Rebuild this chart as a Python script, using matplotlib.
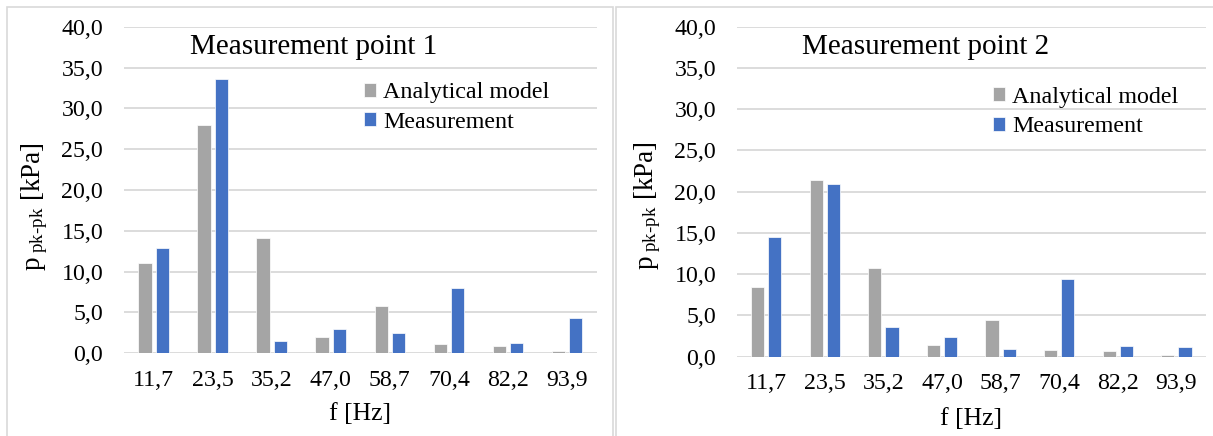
import numpy as np
import matplotlib
matplotlib.use('Agg')
import matplotlib.pyplot as plt
from matplotlib.patches import Rectangle
from matplotlib.ticker import FuncFormatter

plt.rcParams['font.family'] = ['Liberation Serif', 'DejaVu Serif']
plt.rcParams['mathtext.fontset'] = 'custom'
plt.rcParams['mathtext.rm'] = 'Liberation Serif'
plt.rcParams['mathtext.it'] = 'Liberation Serif:italic'

# ---------------------------------- data ----------------------------------
freqs = ['11,7', '23,5', '35,2', '47,0', '58,7', '70,4', '82,2', '93,9']
model_p1 = [11.1, 28.0, 14.1, 1.96, 5.8, 1.14, 0.86, 0.29]
meas_p1 = [12.9, 33.6, 1.47, 2.97, 2.44, 8.0, 1.26, 4.36]
model_p2 = [8.5, 21.4, 10.8, 1.45, 4.44, 0.85, 0.65, 0.2]
meas_p2 = [14.5, 20.9, 3.55, 2.34, 0.93, 9.44, 1.29, 1.21]

gray = '#A5A5A5'
blue = '#4472C4'
grid_c = '#D9D9D9'

W, H = 1213, 436
fig = plt.figure(figsize=(W / 100, H / 100), dpi=100)

# panel frames (pixel coords -> figure coords)
def frame(x0, y0, x1, y1):
    fig.add_artist(Rectangle((x0 / W, 1 - y1 / H), (x1 - x0) / W, (y1 - y0) / H,
                             transform=fig.transFigure, fill=False,
                             ec=grid_c, lw=1.2))

frame(7.3, 7.3, 612.5, 440)
frame(616, 7.3, 1220, 440)


def panel(rect_px, model, meas, title, legend_xy, ylab_xy, xlab_pad):
    x0, y0, x1, y1 = rect_px
    ax = fig.add_axes([x0 / W, 1 - y1 / H, (x1 - x0) / W, (y1 - y0) / H])
    x = np.arange(len(freqs))
    b1 = ax.bar(x - 0.147, model, 0.225, color=gray, ec='white', lw=0.5,
                label='Analytical model', zorder=3)
    b2 = ax.bar(x + 0.147, meas, 0.225, color=blue, ec='white', lw=0.5,
                label='Measurement', zorder=3)
    ax.set_xlim(-0.5, len(freqs) - 0.5)
    ax.set_ylim(0, 40)
    ax.set_yticks(np.arange(0, 41, 5))
    ax.yaxis.set_major_formatter(FuncFormatter(lambda v, p: '{:.1f}'.format(v).replace('.', ',')))
    ax.set_xticks(x)
    ax.set_xticklabels(freqs)
    ax.grid(axis='y', color=grid_c, lw=1.3, zorder=0)
    for s in ['top', 'right', 'left', 'bottom']:
        ax.spines[s].set_visible(False)
    ax.tick_params(axis='both', length=0, labelsize=17.2)
    ax.tick_params(axis='y', pad=15)
    ax.tick_params(axis='x', pad=12)
    ax.set_xlabel('f [Hz]', fontsize=18.5, labelpad=xlab_pad)
    ax.set_ylabel(r'p$_{\ \mathrm{pk\text{-}pk}}$ [kPa]', fontsize=19.5)
    ax.yaxis.set_label_coords(*ylab_xy)
    ax.text(0.402, 0.938, title, transform=ax.transAxes, fontsize=21,
            ha='center', va='center')
    ax.legend(handles=[b1, b2], loc='upper left', bbox_to_anchor=legend_xy,
              frameon=False, fontsize=17.3, handlelength=0.5, handleheight=0.5,
              handletextpad=0.3, labelspacing=0.36, borderpad=0, borderaxespad=0)
    return ax


panel((124, 26.7, 596.7, 353.3), model_p1, meas_p1, 'Measurement point 1',
      (0.508, 0.83), (-0.157, 0.448), 9)
panel((737, 26.7, 1205.7, 356.7), model_p2, meas_p2, 'Measurement point 2',
      (0.546, 0.818), (-0.158, 0.458), 10)

fig.savefig('out.png', dpi=100)
